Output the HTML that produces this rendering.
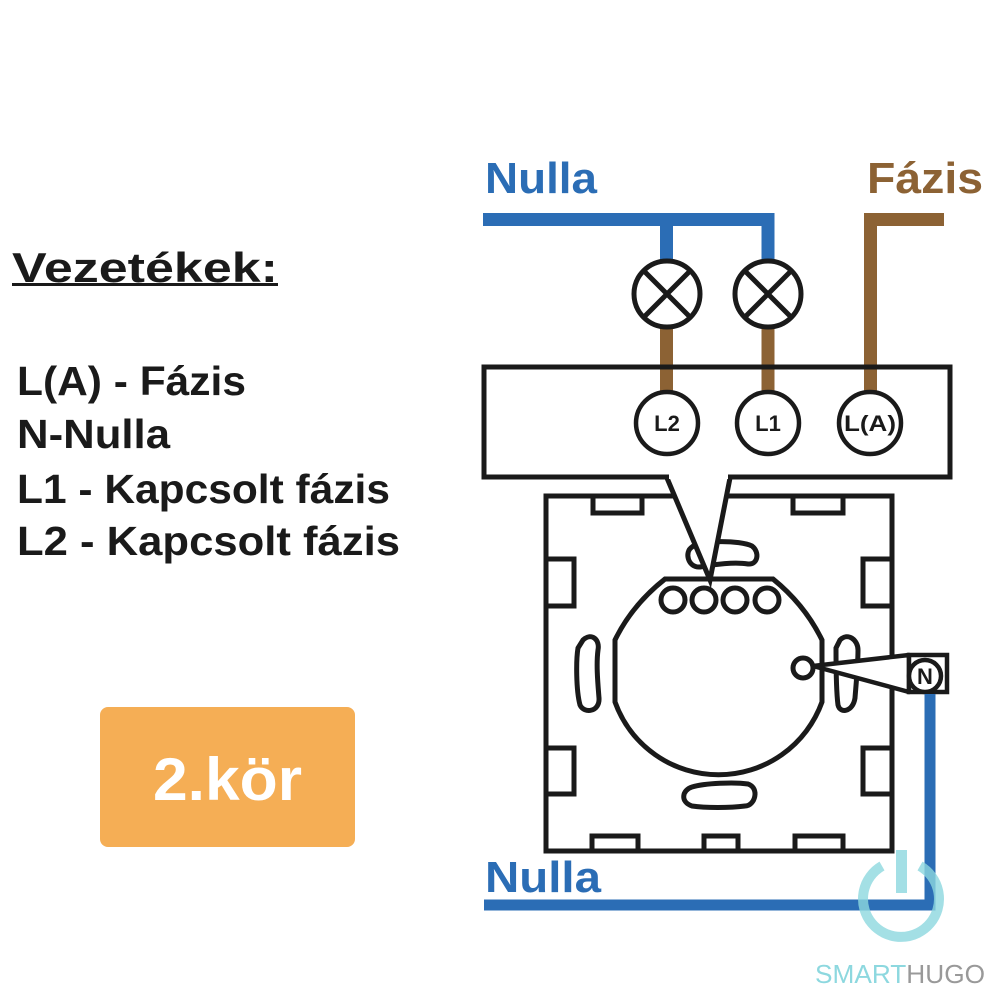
<!DOCTYPE html>
<html><head><meta charset="utf-8"><style>
html,body{margin:0;padding:0;background:#fff;}
svg{display:block;}
text{font-family:"Liberation Sans",sans-serif;font-weight:bold;}
</style></head><body>
<svg width="1000" height="1000" viewBox="0 0 1000 1000" xmlns="http://www.w3.org/2000/svg">
<rect width="1000" height="1000" fill="#fff"/>
<text x="12" y="282" font-size="42" fill="#1a1a1a" textLength="266" lengthAdjust="spacingAndGlyphs">Vezetékek:</text>
<rect x="12" y="283" width="266" height="3" fill="#1a1a1a"/>
<g font-size="41" fill="#1a1a1a">
<text x="17" y="395" textLength="229" lengthAdjust="spacingAndGlyphs">L(A) - Fázis</text>
<text x="17" y="448" textLength="153" lengthAdjust="spacingAndGlyphs">N-Nulla</text>
<text x="17" y="503" textLength="373" lengthAdjust="spacingAndGlyphs">L1 - Kapcsolt fázis</text>
<text x="17" y="555" textLength="383" lengthAdjust="spacingAndGlyphs">L2 - Kapcsolt fázis</text>
</g>
<rect x="100" y="707" width="255" height="140" rx="8" fill="#f5ae55"/>
<text x="153" y="800" font-size="60" fill="#fff" textLength="149" lengthAdjust="spacingAndGlyphs">2.kör</text>

<text x="485" y="193" font-size="44" fill="#2b6db5" textLength="112" lengthAdjust="spacingAndGlyphs">Nulla</text>
<text x="867" y="193" font-size="44" fill="#8c6234" textLength="116" lengthAdjust="spacingAndGlyphs">Fázis</text>

<path d="M483 219.5 H768 V262 M666.5 219.5 V262" stroke="#2b6db5" stroke-width="13" fill="none"/>
<path d="M666.5 326 V392 M768 326 V392" stroke="#8c6234" stroke-width="13" fill="none"/>
<path d="M944 219.5 H870.5 V392" stroke="#8c6234" stroke-width="13" fill="none"/>

<rect x="484" y="367" width="466" height="110" fill="none" stroke="#1a1a1a" stroke-width="5"/>

<g stroke="#1a1a1a" stroke-width="5" fill="#fff">
<circle cx="667" cy="294" r="33"/>
<circle cx="768" cy="294" r="33"/>
</g>
<path d="M644 271 L690 317 M690 271 L644 317 M745 271 L791 317 M791 271 L745 317" stroke="#1a1a1a" stroke-width="5"/>

<g stroke="#1a1a1a" stroke-width="4.5" fill="#fff">
<circle cx="667" cy="423" r="31"/>
<circle cx="768" cy="423" r="31"/>
<circle cx="870" cy="423" r="31"/>
</g>
<g font-size="22" fill="#1a1a1a" text-anchor="middle">
<text x="667" y="431">L2</text>
<text x="768" y="431">L1</text>
<text x="870" y="431" textLength="52" lengthAdjust="spacingAndGlyphs">L(A)</text>
</g>

<g stroke="#1a1a1a" stroke-width="5" fill="#fff">
<rect x="546" y="496" width="346" height="355"/>
<rect x="593" y="496" width="49" height="17"/>
<rect x="793" y="496" width="50" height="17"/>
<rect x="546" y="559" width="28" height="47"/>
<rect x="546" y="748" width="28" height="46"/>
<rect x="863" y="559" width="29" height="47"/>
<rect x="863" y="748" width="29" height="46"/>
<rect x="592" y="836" width="46" height="15"/>
<rect x="704" y="836" width="34" height="15"/>
<rect x="795" y="836" width="48" height="15"/>
<path d="M692 547 C700 540 740 540 752 546 C760 552 758 565 748 564 C735 562 715 564 700 567 C688 568 684 552 692 547 Z"/>
<path d="M583 640 C592 632 600 640 598 650 C596 665 598 685 599 698 C600 712 584 714 580 705 C576 690 576 660 578 648 Z"/>
<path d="M840 640 C848 632 858 640 858 650 C858 665 856 685 855 698 C853 712 840 714 838 705 C836 690 836 660 836 648 Z"/>
<path d="M692 787 C705 783 735 782 748 784 C760 788 755 806 745 806 C730 808 705 808 692 806 C680 802 682 790 692 787 Z"/>
<path d="M665 579 L773 579 Q805 605 822 640 L822 702 A110 110 0 0 1 615 702 L615 640 Q632 605 665 579 Z"/>
<circle cx="673" cy="600" r="12"/>
<circle cx="704" cy="600" r="12"/>
<circle cx="735" cy="600" r="12"/>
<circle cx="767" cy="600" r="12"/>
<circle cx="803" cy="668" r="10"/>
</g>
<path d="M667 478 L710 580 L730 478" stroke="#1a1a1a" stroke-width="5" fill="#fff"/>
<rect x="669" y="470" width="59" height="9" fill="#fff"/>

<path d="M813 666 L909 655 L909 692 Z" fill="#fff" stroke="#1a1a1a" stroke-width="4.5" stroke-linejoin="round"/>
<rect x="909" y="655" width="38" height="37" fill="#fff" stroke="#1a1a1a" stroke-width="4.5"/>
<circle cx="925" cy="676" r="16" fill="#fff" stroke="#1a1a1a" stroke-width="4.5"/>
<text x="925" y="684" font-size="22" fill="#1a1a1a" text-anchor="middle">N</text>

<path d="M930 694 V905 H484" stroke="#2b6db5" stroke-width="11" fill="none"/>
<text x="485" y="892" font-size="44" fill="#2b6db5" textLength="116" lengthAdjust="spacingAndGlyphs">Nulla</text>

<g opacity="0.8">
<path d="M882 866 A38 38 0 1 0 920 866" stroke="#8dd8df" stroke-width="10" fill="none"/>
<rect x="896" y="850" width="11" height="43" fill="#8dd8df"/>
</g>

<text x="815" y="983" font-size="26" style="font-weight:normal" fill="#8dd8df" textLength="170" lengthAdjust="spacingAndGlyphs">SMART<tspan fill="#999">HUGO</tspan></text>
</svg>
</body></html>
